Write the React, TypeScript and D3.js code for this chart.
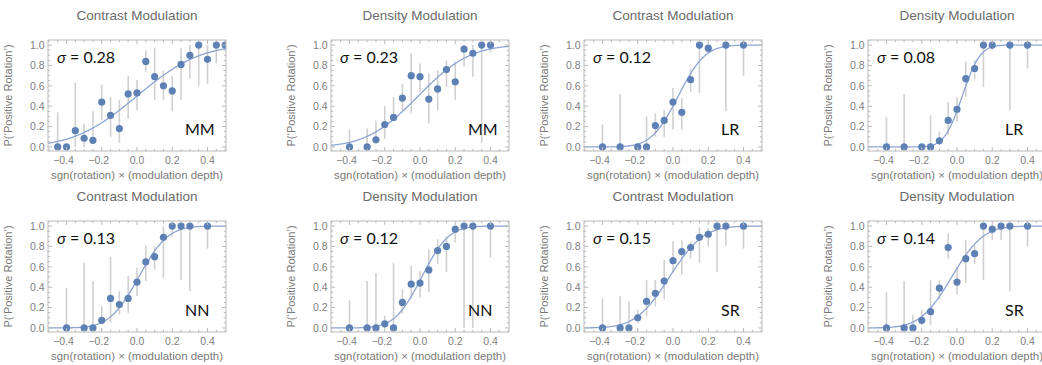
import React from "react";
import * as d3 from "d3";

// ---- data ----
const xMMc = [-0.45, -0.4, -0.35, -0.3, -0.25, -0.2, -0.15, -0.1, -0.05, 0, 0.05, 0.1, 0.15, 0.2, 0.25, 0.3, 0.35, 0.4, 0.45, 0.5];
const pMMc = [0, 0, 0.16, 0.085, 0.065, 0.44, 0.31, 0.18, 0.52, 0.53, 0.84, 0.69, 0.6, 0.55, 0.81, 0.9, 1, 0.86, 1, 1];
const hiMMc = [0.34, 0, 0.63, 0.23, 0.35, 0.61, 0.49, 0.46, 0.7, 0.66, 0.95, 0.97, 0.75, 0.7, 0.97, 1, 1, 1, 1, 1];
const loMMc = [0, 0, 0, 0, 0.03, 0.26, 0.1, 0.04, 0.28, 0.36, 0.74, 0.46, 0.46, 0.35, 0.46, 0.67, 0.6, 0.62, 0.82, 1];

const xMMd = [-0.4, -0.3, -0.25, -0.2, -0.15, -0.1, -0.05, 0, 0.05, 0.1, 0.15, 0.2, 0.25, 0.3, 0.35, 0.4];
const pMMd = [0, 0, 0.07, 0.22, 0.29, 0.48, 0.7, 0.69, 0.47, 0.57, 0.76, 0.64, 0.96, 0.92, 1, 1];
const hiMMd = [0.17, 0.18, 0.26, 0.4, 0.49, 0.62, 0.92, 0.82, 0.72, 0.75, 0.85, 0.84, 1, 1, 1, 1];
const loMMd = [0, 0, 0.04, 0.08, 0.26, 0.36, 0.33, 0.54, 0.23, 0.36, 0.59, 0.46, 0.79, 0.69, 0.04, 0.93];

const xLRc = [-0.4, -0.3, -0.2, -0.15, -0.1, -0.05, 0, 0.05, 0.1, 0.15, 0.2, 0.3, 0.4];
const pLRc = [0, 0, 0, 0, 0.21, 0.26, 0.44, 0.34, 0.66, 1, 0.97, 1, 1];
const hiLRc = [0.22, 0.52, 0.02, 0.3, 0.33, 0.36, 0.58, 0.48, 0.77, 1, 1, 1, 1];
const loLRc = [0, 0, 0, 0, 0.1, 0.1, 0.17, 0.17, 0.54, 0.53, 0.92, 0.35, 0.7];

const xLRd = [-0.4, -0.3, -0.2, -0.15, -0.1, -0.05, 0, 0.05, 0.1, 0.15, 0.2, 0.3, 0.4];
const pLRd = [0, 0, 0, 0, 0.06, 0.26, 0.37, 0.67, 0.77, 1, 1, 1, 1];
const hiLRd = [0.29, 0.52, 0.01, 0.31, 0.15, 0.44, 0.49, 0.84, 0.85, 1, 1, 1, 1];
const loLRd = [0, 0, 0, 0, 0.02, 0.12, 0.25, 0.49, 0.67, 0.59, 0.95, 0.36, 0.77];

const xNNc = [-0.4, -0.3, -0.25, -0.2, -0.15, -0.1, -0.05, 0, 0.05, 0.1, 0.15, 0.2, 0.25, 0.3, 0.4];
const pNNc = [0, 0, 0, 0.075, 0.29, 0.23, 0.29, 0.45, 0.65, 0.7, 0.89, 1, 1, 1, 1];
const hiNNc = [0.39, 0.64, 0.46, 0.21, 0.7, 0.36, 0.51, 0.59, 0.81, 0.8, 1, 1, 1, 1, 1];
const loNNc = [0, 0, 0, 0.04, 0.05, 0.13, 0.15, 0.31, 0.46, 0.57, 0.49, 0.9, 0.47, 0.36, 0.78];

const xNNd = [-0.4, -0.3, -0.25, -0.2, -0.15, -0.1, -0.05, 0, 0.05, 0.1, 0.15, 0.2, 0.25, 0.3, 0.4];
const pNNd = [0, 0, 0, 0.04, 0, 0.25, 0.43, 0.44, 0.57, 0.76, 0.8, 0.97, 1, 1, 1];
const hiNNd = [0.27, 0.46, 0.54, 0.12, 0.64, 0.38, 0.61, 0.56, 0.77, 0.87, 0.9, 1, 1, 1, 1];
const loNNd = [0, 0, 0, 0, 0, 0.14, 0.29, 0.3, 0.35, 0.63, 0.55, 0.84, 0, 0, 0.69];

const xSRc = [-0.4, -0.3, -0.25, -0.2, -0.15, -0.1, -0.05, 0, 0.05, 0.1, 0.15, 0.2, 0.25, 0.3, 0.4];
const pSRc = [0, 0, 0, 0.1, 0.26, 0.34, 0.46, 0.66, 0.75, 0.79, 0.89, 0.92, 1, 1, 1];
const hiSRc = [0.29, 0.31, 0.26, 0.18, 0.47, 0.47, 0.67, 0.85, 0.86, 0.85, 0.99, 0.98, 1, 1, 1];
const loSRc = [0, 0, 0, 0.05, 0.12, 0.21, 0.28, 0.54, 0.52, 0.68, 0.64, 0.8, 0.55, 0.81, 0.78];

const xSRd = [-0.4, -0.3, -0.25, -0.2, -0.15, -0.1, -0.05, 0, 0.05, 0.1, 0.15, 0.2, 0.25, 0.3, 0.4];
const pSRd = [0, 0, 0, 0.075, 0.16, 0.39, 0.79, 0.45, 0.68, 0.73, 1, 0.97, 1, 1, 1];
const hiSRd = [0.35, 0.46, 0.13, 0.18, 0.47, 0.47, 0.93, 0.6, 0.86, 0.81, 1, 1, 1, 1, 1];
const loSRd = [0, 0, 0, 0.03, 0.03, 0.28, 0.68, 0.33, 0.44, 0.63, 0.47, 0.86, 0.86, 0.36, 0.8];

const titles = ["Contrast Modulation", "Density Modulation", "Contrast Modulation", "Density Modulation",
  "Contrast Modulation", "Density Modulation", "Contrast Modulation", "Density Modulation"];
const subjects = ["MM", "MM", "LR", "LR", "NN", "NN", "SR", "SR"];
const sigmas = [0.28, 0.23, 0.12, 0.08, 0.13, 0.12, 0.15, 0.14];
const sigmaLabels = ["0.28", "0.23", "0.12", "0.08", "0.13", "0.12", "0.15", "0.14"];
const biases = [0, -0.01, 0.03, 0.03, 0.01, 0.01, -0.02, -0.03];
const xsets = [xMMc, xMMd, xLRc, xLRd, xNNc, xNNd, xSRc, xSRd];
const psets = [pMMc, pMMd, pLRc, pLRd, pNNc, pNNd, pSRc, pSRd];
const hisets = [hiMMc, hiMMd, hiLRc, hiLRd, hiNNc, hiNNd, hiSRc, hiSRd];
const losets = [loMMc, loMMd, loLRc, loLRd, loNNc, loNNd, loSRc, loSRd];

const xMajor = [-0.4, -0.2, 0, 0.2, 0.4];
const xMajorLabels = ["\u22120.4", "\u22120.2", "0.0", "0.2", "0.4"];
const yMajor = [0, 0.2, 0.4, 0.6, 0.8, 1.0];

// layout
const colLeft = [48, 331, 584, 868];
const rowTop = [40, 221];
const frameW = 178;
const frameH = 111;

const FRAME = "#b9b9b9";
const TICKTXT = "#808080";
const DOT = "#5e81b5";
const CURVE = "#8ca5d3";
const BAR = "#d0d0d0";
const sans = "'Liberation Sans', Arial, sans-serif";
const labelFont = "Lato, 'Open Sans', sans-serif";

// normal cdf (Abramowitz-Stegun erf)
function erf(x: number) {
  const s = x < 0 ? -1 : 1;
  const a = Math.abs(x);
  const t = 1 / (1 + 0.3275911 * a);
  const y = 1 - ((((1.061405429 * t - 1.453152027) * t + 1.421413741) * t - 0.284496736) * t + 0.254829592) * t * Math.exp(-a * a);
  return s * y;
}
const phi = (z: number) => 0.5 * (1 + erf(z / Math.SQRT2));

function Panel({ i }: { i: number }) {
  const left = colLeft[i % 4];
  const top = rowTop[Math.floor(i / 4)];
  const x = d3.scaleLinear().domain([-0.505, 0.505]).range([left, left + frameW]);
  const y = d3.scaleLinear().domain([-0.04, 1.05]).range([top + frameH, top]);
  const cx = left + frameW / 2;

  const minorX = d3.range(-10, 11).map((k) => k * 0.05);
  const minorY = d3.range(0, 21).map((k) => k * 0.05);

  const curvePts = d3.range(0, 201).map((k) => -0.505 + (k / 200) * 1.01);
  const line = d3
    .line<number>()
    .x((v) => x(v))
    .y((v) => y(phi((v - biases[i]) / sigmas[i])));

  const xs = xsets[i];
  const clipId = `clip${i}`;

  return (
    <g>
      <defs>
        <clipPath id={clipId}>
          <rect x={left} y={top} width={frameW} height={frameH} />
        </clipPath>
      </defs>
      <text x={cx} y={top - 20} textAnchor="middle" fontFamily={sans} fontSize={13.5} fill="#6b6b6b">
        {titles[i]}
      </text>

      <g clipPath={`url(#${clipId})`}>
        {xs.map((v, k) => (
          <line key={k} x1={x(v)} x2={x(v)} y1={y(losets[i][k])} y2={y(hisets[i][k])} stroke={BAR} strokeWidth={1.6} />
        ))}
        <path d={line(curvePts) || ""} fill="none" stroke={CURVE} strokeWidth={1.3} />
        {xs.map((v, k) => (
          <circle key={k} cx={x(v)} cy={y(psets[i][k])} r={3.6} fill={DOT} />
        ))}
      </g>

      {/* frame */}
      <rect x={left} y={top} width={frameW} height={frameH} fill="none" stroke={FRAME} strokeWidth={1} />
      {minorX.map((v, k) => {
        const major = xMajor.some((m) => Math.abs(m - v) < 1e-9);
        const len = major ? 4 : 2.2;
        return (
          <g key={k}>
            <line x1={x(v)} x2={x(v)} y1={top + frameH} y2={top + frameH - len} stroke={FRAME} />
            <line x1={x(v)} x2={x(v)} y1={top} y2={top + len} stroke={FRAME} />
          </g>
        );
      })}
      {minorY.map((v, k) => {
        const major = yMajor.some((m) => Math.abs(m - v) < 1e-9);
        const len = major ? 4 : 2.2;
        return (
          <g key={k}>
            <line x1={left} x2={left + len} y1={y(v)} y2={y(v)} stroke={FRAME} />
            <line x1={left + frameW} x2={left + frameW - len} y1={y(v)} y2={y(v)} stroke={FRAME} />
          </g>
        );
      })}

      {/* tick labels */}
      {xMajor.map((v, k) => (
        <text key={k} x={x(v) - (v < 0 ? 3 : 0)} y={top + frameH + 13} textAnchor="middle" fontFamily={sans} fontSize={10.5} fill={TICKTXT}>
          {xMajorLabels[k]}
        </text>
      ))}
      {yMajor.map((v, k) => (
        <text key={k} x={left - 3.5} y={y(v) + 3.8} textAnchor="end" fontFamily={sans} fontSize={10.5} fill={TICKTXT}>
          {d3.format(".1f")(v)}
        </text>
      ))}

      {/* axis labels */}
      <text x={cx} y={top + frameH + 28} textAnchor="middle" fontFamily={sans} fontSize={11.4} fill="#7a7a7a">
        sgn(rotation) × (modulation depth)
      </text>
      <text
        transform={`translate(${left - 36},${top + frameH / 2}) rotate(-90)`}
        textAnchor="middle"
        fontFamily={sans}
        fontSize={11}
        fill="#7a7a7a"
      >
        P(‘Positive Rotation’)
      </text>

      {/* annotations */}
      <text x={left + 9} y={top + 23} fontFamily={labelFont} fontSize={16} fill="#111">
        <tspan fontStyle="italic">σ</tspan> = {sigmaLabels[i]}
      </text>
      <text x={left + 137} y={top + 95} fontFamily={labelFont} fontSize={16} fill="#111">
        {subjects[i]}
      </text>
    </g>
  );
}

export default function App() {
  return (
    <svg width={1042} height={365} style={{ position: "absolute", left: 0, top: 0, background: "#fff" }}>
      {d3.range(8).map((i) => (
        <Panel key={i} i={i} />
      ))}
    </svg>
  );
}
